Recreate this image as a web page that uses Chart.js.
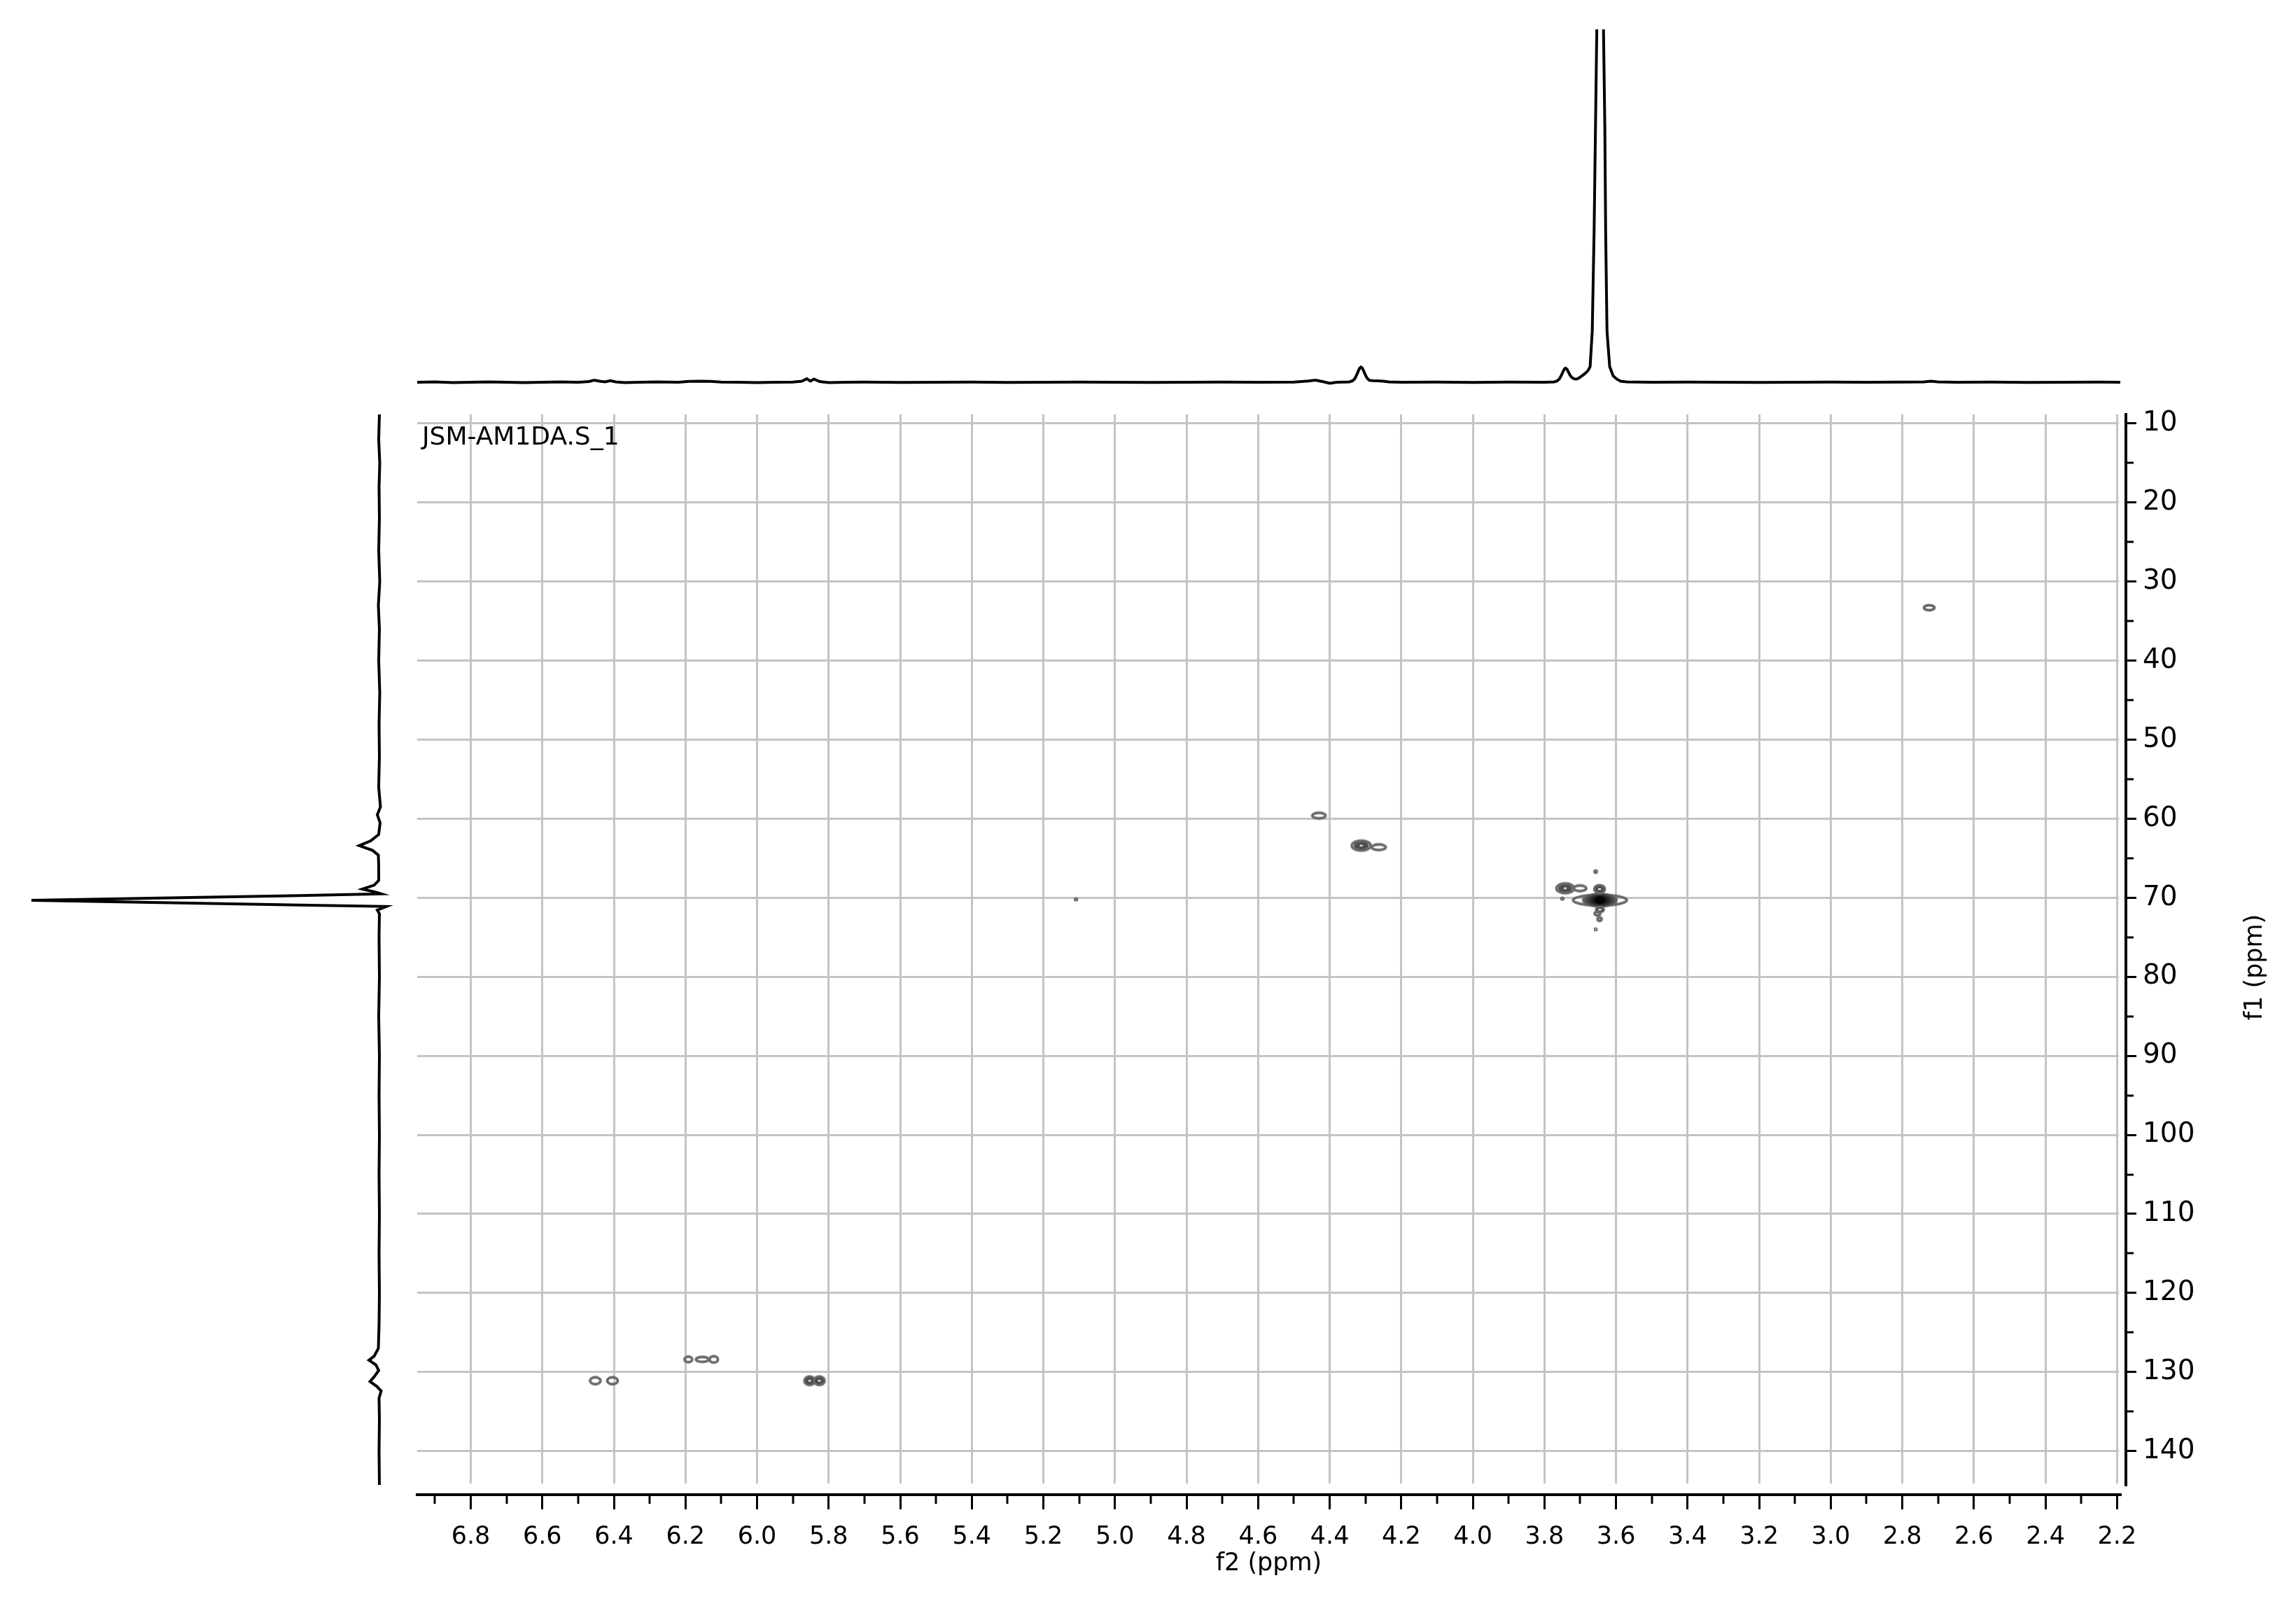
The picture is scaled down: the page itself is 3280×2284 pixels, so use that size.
<!DOCTYPE html>
<html>
<head>
<meta charset="utf-8">
<script src="https://cdn.jsdelivr.net/npm/chart.js@4.4.1/dist/chart.umd.min.js"></script>
<style>
  html, body { margin: 0; padding: 0; background: #fff; }
  #wrap { position: relative; width: 3280px; height: 2284px; overflow: hidden; }
  canvas { position: absolute; left: 0; top: 0; }
</style>
</head>
<body>
<div id="wrap">
  <canvas id="main" width="3280" height="2284"></canvas>
  <canvas id="top" width="3280" height="580"></canvas>
  <canvas id="side" width="600" height="2284"></canvas>
</div>
<script>
// axis ranges (ppm) and labelled ticks
const f2Range = [2.191, 6.9496];
const f1Range = [8.85, 144.28];
const f2Ticks = [6.8, 6.6, 6.4, 6.2, 6.0, 5.8, 5.6, 5.4, 5.2, 5.0, 4.8, 4.6, 4.4, 4.2, 4.0, 3.8, 3.6, 3.4, 3.2, 3.0, 2.8, 2.6, 2.4, 2.2];
const f1Ticks = [10, 20, 30, 40, 50, 60, 70, 80, 90, 100, 110, 120, 130, 140];
const sampleName = 'JSM-AM1DA.S_1';

// 1H projection (top): [f2 ppm, intensity], 100 = top of panel
const topTrace = [
  [6.95, 0.0], [6.90, 0.1], [6.85, -0.1], [6.80, 0.0], [6.75, 0.1], [6.70, 0.0], [6.65, -0.1],
  [6.60, 0.0], [6.55, 0.1], [6.50, 0.0], [6.47, 0.2], [6.455, 0.6], [6.44, 0.3], [6.425, 0.1],
  [6.41, 0.45], [6.395, 0.1], [6.37, -0.1], [6.33, 0.0], [6.28, 0.1], [6.22, 0.0], [6.19, 0.25],
  [6.16, 0.3], [6.13, 0.25], [6.10, 0.05], [6.05, 0.0], [6.00, -0.1], [5.95, 0.0], [5.90, 0.05],
  [5.875, 0.3], [5.861, 1.0], [5.851, 0.3], [5.841, 0.9], [5.825, 0.2], [5.80, -0.1], [5.75, 0.0],
  [5.70, 0.05], [5.60, -0.05], [5.50, 0.0], [5.40, 0.05], [5.30, -0.05], [5.20, 0.0], [5.10, 0.05],
  [5.00, 0.0], [4.90, -0.05], [4.80, 0.0], [4.70, 0.05], [4.60, 0.0], [4.50, 0.05], [4.46, 0.35],
  [4.44, 0.6], [4.42, 0.2], [4.40, -0.3], [4.38, 0.0], [4.345, 0.1], [4.336, 0.4], [4.330, 1.0],
  [4.325, 2.0], [4.320, 3.2], [4.316, 4.0], [4.3126, 4.3], [4.309, 4.0], [4.305, 3.2], [4.300, 2.0],
  [4.295, 1.1], [4.289, 0.55], [4.28, 0.45], [4.265, 0.4], [4.25, 0.3], [4.235, 0.1], [4.20, 0.0],
  [4.10, 0.05], [4.00, -0.05], [3.90, 0.05], [3.80, 0.0], [3.772, 0.1], [3.764, 0.4], [3.758, 1.0],
  [3.753, 1.9], [3.748, 3.0], [3.744, 3.8], [3.741, 4.0], [3.737, 3.7], [3.733, 2.9], [3.728, 1.9],
  [3.722, 1.2], [3.716, 0.95], [3.711, 0.9], [3.705, 1.1], [3.698, 1.6], [3.690, 2.2], [3.684, 2.7],
  [3.679, 3.2], [3.6724, 4.4], [3.6664, 14.5], [3.6612, 43], [3.6574, 72], [3.6537, 100], [3.6447, 260],
  [3.6350, 100], [3.6312, 72], [3.629, 43], [3.6252, 14.5], [3.6177, 4.4], [3.608, 1.8], [3.598, 0.9],
  [3.587, 0.3], [3.57, 0.1], [3.50, 0.0], [3.40, 0.05], [3.30, 0.0], [3.20, -0.05], [3.10, 0.0],
  [3.00, 0.05], [2.90, 0.0], [2.80, 0.05], [2.74, 0.1], [2.72, 0.3], [2.70, 0.1], [2.65, 0.0],
  [2.55, 0.05], [2.45, -0.05], [2.35, 0.0], [2.25, 0.05], [2.191, 0.0]
];

// 13C projection (left): [f1 ppm, intensity], 100 = tallest line
const sideTrace = [
  [8.85, 0], [12, 0.2], [15, -0.1], [18, 0.1], [22, 0], [26, 0.2], [30, -0.1], [33, 0.3], [36, 0],
  [40, 0.2], [44, -0.1], [48, 0.1], [52, 0], [56, 0.2], [58.5, -0.3], [59.5, 0.6], [60.5, -0.2],
  [62, 0.2], [62.8, 2.5], [63.4, 5.8], [64.0, 2.0], [64.6, 0.3], [66, 0.2], [67.8, 0.2], [68.4, 1.5],
  [68.9, 4.9], [69.3, 1.0], [69.5, -0.5], [69.72, 23], [69.93, 48.7], [70.33, 100], [70.72, 48.7],
  [70.92, 23], [71.1, -2.0], [71.56, 0.6], [72.0, 0], [75, 0.1], [80, 0], [85, 0.2], [90, 0],
  [95, 0.1], [100, 0], [105, 0.1], [110, 0], [115, 0.1], [120, 0], [124, 0.1], [127, 0.3],
  [128.0, 1.5], [128.5, 3.0], [129.1, 1.0], [129.8, 0.2], [130.6, 1.5], [131.2, 2.7], [131.8, 0.8],
  [132.4, -0.5], [133.3, 0.1], [136, 0], [140, 0.1], [144.28, 0]
];

// cross peaks of the 2D map
const peakF2 = [2.725, 4.430, 4.312, 4.263, 3.742, 3.701, 3.750, 3.645, 3.646, 3.657, 3.645, 3.652, 3.646, 3.657, 5.109, 6.452, 6.404, 6.192, 6.153, 6.121, 5.853, 5.826];
const peakF1 = [33.3, 59.6, 63.4, 63.6, 68.8, 68.8, 70.1, 70.3, 68.9, 66.7, 71.5, 72.0, 72.7, 74.0, 70.2, 131.1, 131.1, 128.4, 128.4, 128.4, 131.1, 131.1];
const peakLevels = [1, 1, 3, 1, 3, 1, 1, 8, 2, 1, 2, 1, 1, 1, 1, 1, 1, 1, 1, 1, 2, 2];

// drawing size of each contour (px)
const peakSize = [[18, 10], [22, 11], [30, 17], [23, 11], [28, 17], [21, 11], [6, 5], [80, 18], [18, 14], [6, 6],
  [14, 10], [11, 8], [9, 8], [5, 5], [6, 4], [18, 13], [18, 13], [14, 11], [21, 10], [15, 12], [18, 15], [18, 15]];

Chart.defaults.font.family = '"DejaVu Sans", Verdana, sans-serif';
Chart.defaults.color = '#000';

// outer contour as a grey ring, higher contour levels as darker filled ellipses
function contourImage(w, h, levels) {
  const c = document.createElement('canvas');
  c.width = w + 8;
  c.height = h + 14;
  const g = c.getContext('2d');
  const cx = c.width / 2, cy = c.height / 2;
  g.lineWidth = 3.8;
  g.strokeStyle = 'rgb(106,106,106)';
  g.beginPath();
  g.ellipse(cx, cy, Math.max(w / 2 - 1.5, 1), Math.max(h / 2 - 1.5, 1), 0, 0, Math.PI * 2);
  g.stroke();
  const big = levels > 4;
  const fx = big ? 0.64 : 0.72, fy = big ? 1.2 : 0.66;
  for (let i = 1; i < levels; i++) {
    const t = (i - 1) / Math.max(levels - 1, 1);
    const rx = Math.max((w / 2) * fx * (1 - 0.85 * t), 1);
    const ry = Math.max((h / 2) * fy * (1 - 0.6 * t), 1);
    const s = Math.round(big ? 100 - 95 * (i - 1) / (levels - 2) : 78);
    g.fillStyle = 'rgb(' + s + ',' + s + ',' + s + ')';
    g.beginPath();
    g.ellipse(cx, cy, rx, ry, 0, 0, Math.PI * 2);
    g.fill();
  }
  if (levels > 1 && !big) {
    g.fillStyle = '#fff';
    g.fillRect(cx - 2, cy - 1, 4, 2);
  }
  return c;
}
const peakImgs = peakSize.map((s, i) => contourImage(s[0], s[1], peakLevels[i]));

function withMinor(major, half, range) {
  const t = major.map(v => ({value: v}));
  major.forEach(v => {
    const m = +(v + half).toFixed(3);
    if (m >= range[0] && m <= range[1]) t.push({value: m, minor: true});
  });
  return t.sort((a, b) => a.value - b.value);
}

const isMinor = c => !!(c.tick && c.tick.minor);

const textLabels = {
  id: 'textLabels',
  afterDraw(chart) {
    const {ctx, chartArea} = chart;
    ctx.save();
    ctx.fillStyle = '#000';
    ctx.font = '36px "DejaVu Sans"';
    ctx.textBaseline = 'alphabetic';
    ctx.fillText(sampleName, chartArea.left + 7, chartArea.top + 43);
    ctx.translate(3222, (chartArea.top + chartArea.bottom) / 2 + 25);
    ctx.rotate(-Math.PI / 2);
    ctx.textAlign = 'center';
    ctx.textBaseline = 'middle';
    ctx.font = '35px "DejaVu Sans"';
    ctx.fillText('f1 (ppm)', 0, 0);
    ctx.restore();
  }
};

new Chart(document.getElementById('main'), {
  type: 'scatter',
  data: {
    datasets: [{
      xAxisID: 'x',
      yAxisID: 'y',
      data: peakF2.map((x, i) => ({x: x, y: peakF1[i]})),
      pointStyle: c => peakImgs[c.dataIndex],
      pointRadius: 5
    }]
  },
  options: {
    responsive: false,
    animation: false,
    events: [],
    layout: {padding: {left: 596, top: 592, right: 93, bottom: 9}},
    plugins: {legend: {display: false}, tooltip: {enabled: false}},
    scales: {
      xgap: {
        type: 'linear', position: 'bottom', weight: 0,
        grid: {display: false}, border: {display: false}, ticks: {display: false},
        afterFit: s => { s.height = 14; }
      },
      x: {
        type: 'linear', position: 'bottom', weight: 1, reverse: true,
        min: f2Range[0], max: f2Range[1],
        afterBuildTicks: s => { s.ticks = withMinor(f2Ticks, 0.1, f2Range); },
        afterFit: s => { s.height = 140; },
        grid: {
          color: '#c4c4c4', lineWidth: c => isMinor(c) ? 0 : 3,
          tickColor: '#000', tickWidth: 3, tickLength: 21,
          tickBorderDash: c => isMinor(c) ? [11, 200] : []
        },
        border: {display: true, color: '#000', width: 4},
        ticks: {
          autoSkip: false, maxRotation: 0, padding: 19, font: {size: 35},
          callback: (v, i, t) => t[i].minor ? '' : v.toFixed(1)
        },
        title: {display: true, text: 'f2 (ppm)', font: {size: 35}, padding: {top: 0, bottom: 20}}
      },
      ygap: {
        type: 'linear', position: 'right', weight: 0,
        grid: {display: false}, border: {display: false}, ticks: {display: false},
        afterFit: s => { s.width = 8; }
      },
      y: {
        type: 'linear', position: 'right', weight: 1, reverse: true,
        min: f1Range[0], max: f1Range[1],
        afterBuildTicks: s => { s.ticks = withMinor(f1Ticks, 5, f1Range); },
        afterFit: s => { s.width = 150; },
        grid: {
          color: '#c4c4c4', lineWidth: c => isMinor(c) ? 0 : 3,
          tickColor: '#000', tickWidth: 3, tickLength: 15,
          tickBorderDash: c => isMinor(c) ? [9, 200] : []
        },
        border: {display: true, color: '#000', width: 4},
        ticks: {
          autoSkip: false, padding: 9, font: {size: 39},
          callback: (v, i, t) => t[i].minor ? '' : String(v)
        }
      }
    }
  },
  plugins: [textLabels]
});

// top projection
new Chart(document.getElementById('top'), {
  type: 'scatter',
  data: {
    datasets: [{
      data: topTrace.map(p => ({x: p[0], y: p[1]})),
      showLine: true, pointRadius: 0, borderColor: '#000', borderWidth: 4, tension: 0
    }]
  },
  options: {
    responsive: false,
    animation: false,
    events: [],
    layout: {padding: {left: 596, right: 251, top: 42, bottom: 20}},
    plugins: {legend: {display: false}, tooltip: {enabled: false}},
    scales: {
      x: {type: 'linear', display: false, reverse: true, min: f2Range[0], max: f2Range[1]},
      y: {type: 'linear', display: false, min: -2.78, max: 100}
    }
  }
});

// left projection
new Chart(document.getElementById('side'), {
  type: 'scatter',
  data: {
    datasets: [{
      data: sideTrace.map(p => ({x: p[1], y: p[0]})),
      showLine: true, pointRadius: 0, borderColor: '#000', borderWidth: 4, tension: 0
    }]
  },
  options: {
    responsive: false,
    animation: false,
    events: [],
    layout: {padding: {left: 22, right: 38, top: 592, bottom: 163}},
    plugins: {legend: {display: false}, tooltip: {enabled: false}},
    scales: {
      x: {type: 'linear', display: false, reverse: true, min: -4.02, max: 104.6},
      y: {type: 'linear', display: false, reverse: true, min: f1Range[0], max: f1Range[1]}
    }
  }
});
</script>
</body>
</html>
